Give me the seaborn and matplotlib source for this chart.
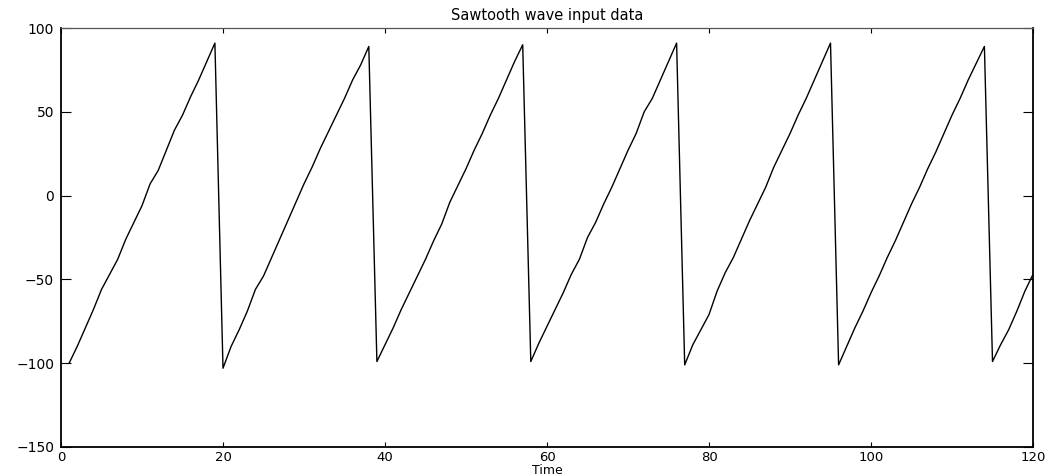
import numpy as np
import pandas as pd
import matplotlib
matplotlib.use("Agg")
import matplotlib.pyplot as plt
import seaborn as sns

# Sampled sawtooth input, one sample per time step (t = 1 .. 120)
tooth1 = [-100, -90, -79, -68, -56, -47, -38, -26, -16, -6, 7, 15, 27, 39, 48, 59, 69, 80, 91]
tooth2 = [-103, -90, -80, -69, -56, -48, -37, -26, -15, -4, 7, 17, 28, 38, 48, 58, 69, 78, 89]
tooth3 = [-99, -89, -79, -68, -58, -48, -38, -27, -17, -4, 6, 16, 27, 37, 48, 58, 69, 80, 90]
tooth4 = [-99, -88, -78, -68, -58, -47, -38, -25, -16, -5, 5, 16, 27, 37, 50, 58, 69, 80, 91]
tooth5 = [-101, -89, -80, -71, -57, -46, -37, -26, -15, -5, 5, 17, 27, 37, 48, 58, 69, 80, 91]
tooth6 = [-101, -90, -79, -69, -58, -48, -37, -27, -16, -5, 5, 16, 26, 37, 48, 58, 69, 79, 89]
tooth7 = [-99, -89, -80, -69, -57, -47]

values = tooth1 + tooth2 + tooth3 + tooth4 + tooth5 + tooth6 + tooth7
time = list(range(1, len(values) + 1))

x_ticks = [0, 20, 40, 60, 80, 100, 120]
y_ticks = [-150, -100, -50, 0, 50, 100]

df = pd.DataFrame({"Time": time, "value": values})

sns.set_style("white", {"text.color": "black", "axes.labelcolor": "black",
                        "xtick.color": "black", "ytick.color": "black"})
plt.rcParams["font.family"] = ["DejaVu Sans"]

fig = plt.figure(figsize=(10.52, 4.76), dpi=100)
ax = fig.add_axes([61 / 1052, 29 / 476, (1033 - 61) / 1052, (447 - 28) / 476])

sns.lineplot(data=df, x="Time", y="value", ax=ax, color="black", linewidth=1.0)

ax.set_xlim(0, 120)
ax.set_ylim(-150, 100)
ax.set_xticks(x_ticks)
ax.set_yticks(y_ticks)
ax.set_xlabel("Time", fontsize=9, labelpad=0, color="black")
ax.set_ylabel("")
ax.set_title("Sawtooth wave input data", fontsize=10.5, color="black")

ax.tick_params(axis="x", direction="in", length=3.6, width=0.8, top=True,
               bottom=True, pad=3, labelsize=9.5, colors="black")
ax.tick_params(axis="y", direction="in", length=7.2, width=0.8, left=True,
               right=True, pad=5, labelsize=10, colors="black")

for side in ["left", "right", "bottom"]:
    ax.spines[side].set_color("black")
    ax.spines[side].set_linewidth(1.3)
ax.spines["top"].set_color("#555555")
ax.spines["top"].set_linewidth(0.9)

fig.savefig("out.png", dpi=100)
